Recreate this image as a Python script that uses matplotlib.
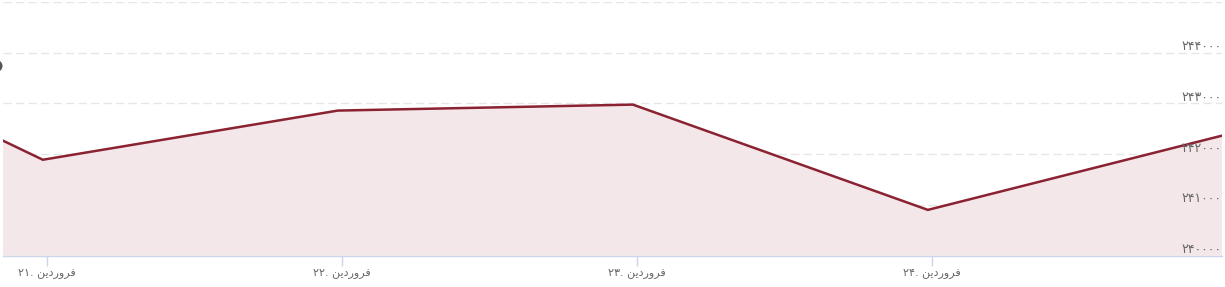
import matplotlib
matplotlib.use('Agg')
import matplotlib.pyplot as plt
from matplotlib.patches import Circle

# time in days of Farvardin (points sit a little before midnight)
days = [19.986, 20.986, 21.986, 22.986, 23.986, 24.983]
prices = [244676, 241891, 242860, 242978, 240903, 242366]

tick_days = [21, 22, 23, 24]
y_ticks = [240000, 241000, 242000, 243000, 244000, 245000]

# month name written in visual order with Arabic presentation forms
month = '\ufee6\ufef3\ufea9\ufead\ufeed\ufeae\ufed3'
fa_digits = str.maketrans('0123456789', '۰۱۲۳۴۵۶۷۸۹')

line_color = '#8b2232'
fill_color = '#f3e7e9'
axis_color = '#ccd6eb'
label_color = '#666666'

fig = plt.figure(figsize=(12.25, 2.87), dpi=100)
ax = fig.add_axes([3 / 1225, 31.3 / 287, 1219 / 1225, 253.7 / 287])

ax.fill_between(days, prices, 240000, color=fill_color, linewidth=0)
ax.plot(days, prices, color=line_color, linewidth=1.8, solid_joinstyle='miter')

ax.set_xlim(20.851, 24.983)
ax.set_ylim(240000, 245000)

for v in y_ticks[1:]:
    ax.axhline(v, color='#e6e6e6', linewidth=1, linestyle=(0, (6, 3)), zorder=0)

ax.set_yticks([])
for v in y_ticks[:-1]:
    ax.text(0.9995, v + 120, str(v).translate(fa_digits), transform=ax.get_yaxis_transform(),
            ha='right', va='center', fontsize=9, color=label_color, family='DejaVu Sans')

ax.set_xticks(tick_days)
ax.set_xticklabels([str(d).translate(fa_digits) + '. ' + month for d in tick_days],
                   fontsize=8, color=label_color, family='DejaVu Sans')
ax.tick_params(axis='x', length=7, width=1, color=axis_color, pad=2)

for side in ['top', 'right', 'left']:
    ax.spines[side].set_visible(False)
ax.spines['bottom'].set_color(axis_color)
ax.spines['bottom'].set_linewidth(1)

# partly hidden round button at the left edge
fig.patches.append(Circle((-0.035, 2.21), 0.06, transform=fig.dpi_scale_trans,
                          facecolor='#555555', edgecolor='none'))

fig.savefig('out.png', dpi=100)
